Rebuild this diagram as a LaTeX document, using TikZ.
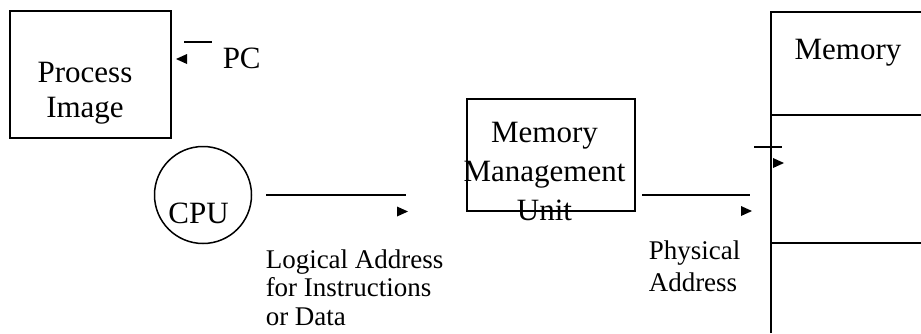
\documentclass[tikz,border=0pt]{standalone}
\usepackage{fontspec}
\setmainfont{Liberation Serif}
\begin{document}
\begin{tikzpicture}[x=1pt,y=-1pt,line width=1.5pt,
  bigtext/.style={font=\fontsize{31}{35}\selectfont,inner sep=0pt},
  smalltext/.style={font=\fontsize{27}{28.5}\selectfont,inner sep=0pt,align=left},
  boxshape/.style={draw,rectangle,inner sep=0pt},
  shaft/.style={draw,line width=1.5pt}]
\useasboundingbox (0,0) rectangle (921,333);

% process image box and program counter
\node[boxshape,minimum width=161pt,minimum height=127pt] (img) at (90.5,74.5) {};
\node[bigtext,align=center] (imgtext) at (85,93.6) {Process\\Image};
\node[bigtext,anchor=base west] (pc) at (222,68) {PC};
\coordinate (pcA) at (184,42);
\coordinate (pcB) at (212,42);
\draw[shaft] (pcA) -- (pcB);
\fill (176,59) -- ++(11,-5) -- ++(0,10) -- cycle;

% processor
\node[draw,circle,minimum size=97pt,inner sep=0pt] (cpu) at (203,195) {};
\node[bigtext,anchor=base] (cputext) at (198.5,223) {CPU};

% logical address line
\coordinate (laA) at (266,195);
\coordinate (laB) at (406,195);
\draw[shaft] (laA) -- (laB);
\fill (408,211.5) -- ++(-11,-5) -- ++(0,10) -- cycle;
\node[smalltext,anchor=west] (latext) at (265,287.3)
  {Logical Address\\for Instructions\\or Data};

% memory management unit
\node[boxshape,minimum width=168pt,minimum height=112pt] (mmu) at (551,155) {};
\node[font=\fontsize{31}{39}\selectfont,inner sep=0pt,align=center] (mmutext)
  at (544.5,171.75) {Memory\\Management\\Unit};

% physical address line
\coordinate (paA) at (642,195);
\coordinate (paB) at (750,195);
\draw[shaft] (paA) -- (paB);
\fill (752,211) -- ++(-11,-5) -- ++(0,10) -- cycle;
\node[font=\fontsize{27}{32}\selectfont,inner sep=0pt,align=left,anchor=west]
  (patext) at (648,265.8) {Physical\\Address};

% main memory column
\coordinate (memTL) at (771,12);
\coordinate (memTR) at (921,12);
\coordinate (memBL) at (771,333);
\coordinate (memD1L) at (771,115);
\coordinate (memD1R) at (921,115);
\coordinate (memD2L) at (771,243);
\coordinate (memD2R) at (921,243);
\draw (memBL) -- (memTL) -- (memTR);
\draw (memD1L) -- (memD1R);
\draw (memD2L) -- (memD2R);
\node[bigtext,anchor=base] (memtext) at (848,59) {Memory};

% pointer into memory
\coordinate (ptA) at (754,147);
\coordinate (ptB) at (782,147);
\draw[shaft] (ptA) -- (ptB);
\fill (784,163) -- ++(-11,-5) -- ++(0,10) -- cycle;
\end{tikzpicture}
\end{document}
